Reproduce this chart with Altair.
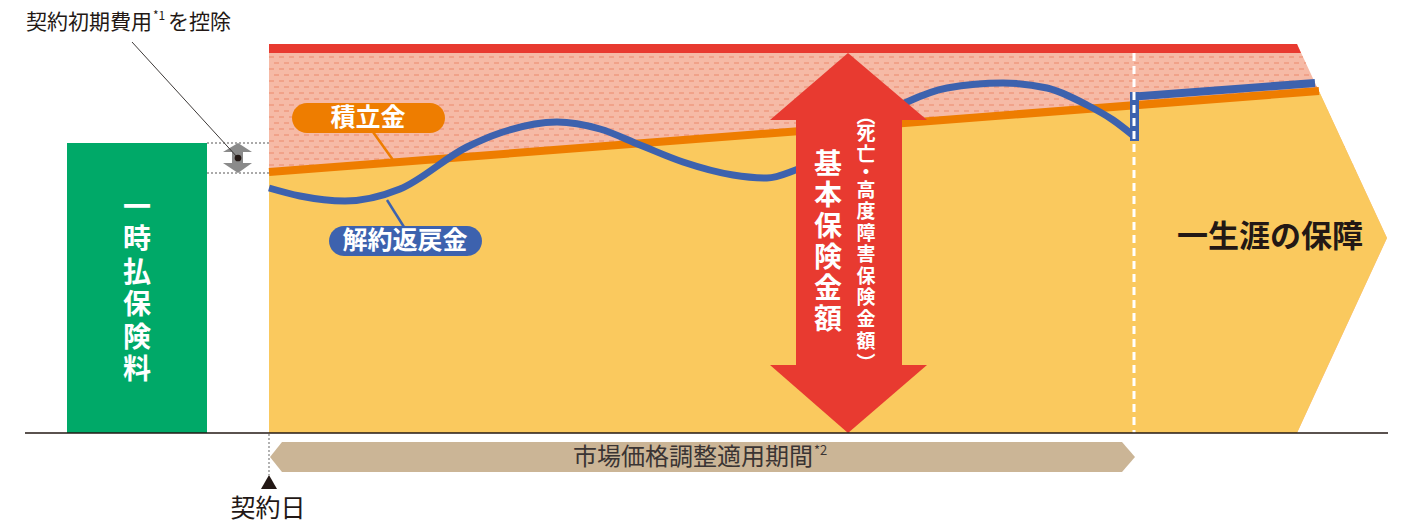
import altair as alt
import pandas as pd

# ---------------- diagram frame (pixel-like coordinates) ----------------
X_DOMAIN = [8, 1393]
Y_DOMAIN = [8, 524]
W, H = 1385, 516

FONT = "Noto Sans CJK JP"
INK = "#231815"

# ---------------- shapes / values ----------------
shape_x = [269, 1297, 1387]
shape_top = [44, 44, 238]
shape_bottom = [433, 433, 238]

red_band_x = [269, 1297, 1301]
red_band_top = [44, 44, 53]
red_band_bottom = [53, 53, 53]

yellow_x = [269, 1297, 1319, 1387]
yellow_top = [172, 92.6, 91, 238]
yellow_bottom = [433, 433, 385, 238]

orange_x = [269, 1319]
orange_y = [172, 91]

blue_curve_x = [269, 300, 345, 400, 467, 500, 557, 600, 640, 683, 733, 767, 793,
                850, 907, 947, 1003, 1047, 1087, 1113, 1135]
blue_curve_y = [188, 196, 201, 189, 147, 133, 122, 129, 145, 162, 175, 178, 171,
                137, 102, 88, 83, 88, 105, 120, 137]
blue_tail_x = [1135, 1315]
blue_tail_y = [96.5, 83]
blue_jump = {"x": 1134.5, "y1": 92, "y2": 141}

dash_rows = [57, 63, 69, 75, 81, 87, 93, 99, 105, 111, 117, 123, 129, 135, 141,
             147, 153, 159, 165, 171]

period_line = {"x": 1134, "y1": 53, "y2": 433}

arrow_top_y = [53, 120]
arrow_top_l = [848, 770]
arrow_top_r = [848, 927]
arrow_shaft = {"x1": 796, "x2": 902, "y1": 119, "y2": 366}
arrow_bot_y = [365, 433]
arrow_bot_l = [770, 848]
arrow_bot_r = [927, 848]

green_box = {"x1": 67, "x2": 207, "y1": 143, "y2": 433}
green_chars = list("一時払保険料")
green_char_y = [209, 241, 274, 306, 339, 371]

main_chars = list("基本保険金額")
main_char_y = [166, 197, 228, 259, 290, 321]
sub_chars = ["︵", "死", "亡", "・", "高", "度", "障", "害", "保", "険", "金", "額", "︶"]
sub_char_y = [117, 134, 155, 173, 191, 212, 234, 255, 277, 298, 320, 342, 364]

gray_top_y = [143, 152]
gray_top_l = [238, 223]
gray_top_r = [238, 252]
gray_shaft = {"x1": 232, "x2": 243, "y1": 151, "y2": 164}
gray_bot_y = [163, 173]
gray_bot_l = [223, 238]
gray_bot_r = [252, 238]

tan_y = [442, 457, 472]
tan_l = [282, 270, 282]
tan_r = [1122, 1135, 1122]

tri_y = [475, 489]
tri_l = [269, 261]
tri_r = [269, 277]

# ---------------- colours ----------------
C_PINK = "#F6BAA6"
C_DASH = "#EF9A80"
C_RED = "#E83A30"
C_YELLOW = "#FAC95E"
C_ORANGE = "#EE7D00"
C_BLUE = "#3D62AE"
C_GREEN = "#00A968"
C_GRAY = "#8A8A8A"
C_TAN = "#CBB596"

xs = alt.Scale(domain=X_DOMAIN, nice=False, zero=False)
ys = alt.Scale(domain=Y_DOMAIN, nice=False, zero=False, reverse=True)


def X(f="x"):
    return alt.X(f"{f}:Q", scale=xs, axis=None)


def Y(f="y"):
    return alt.Y(f"{f}:Q", scale=ys, axis=None)


def vband(xv, top, bottom, color):
    df = pd.DataFrame({"x": xv, "y": top, "y2": bottom})
    return alt.Chart(df).mark_area(color=color, opacity=1).encode(
        x=X(), y=Y(), y2=alt.Y2("y2:Q"))


def hband(yv, left, right, color):
    df = pd.DataFrame({"y": yv, "x": left, "x2": right})
    return alt.Chart(df).mark_area(color=color, opacity=1, orient="horizontal").encode(
        y=Y(), x=X(), x2=alt.X2("x2:Q"))


def box(b, color, **kw):
    df = pd.DataFrame([b])
    return alt.Chart(df).mark_rect(color=color, opacity=1, **kw).encode(
        x=X("x1"), x2=alt.X2("x2:Q"), y=Y("y1"), y2=alt.Y2("y2:Q"))


def seg(rows, **kw):
    df = pd.DataFrame(rows)
    return alt.Chart(df).mark_rule(**kw).encode(
        x=X("x1"), x2=alt.X2("x2:Q"), y=Y("y1"), y2=alt.Y2("y2:Q"))


def line(xv, yv, **kw):
    df = pd.DataFrame({"x": xv, "y": yv})
    return alt.Chart(df).mark_line(**kw).encode(x=X(), y=Y())


def texts(rows, **kw):
    df = pd.DataFrame(rows)
    return alt.Chart(df).mark_text(font=FONT, **kw).encode(x=X(), y=Y(), text="t:N")


def slant_x(y):
    # upper slanted edge of the big arrow shape
    return shape_x[1] + (y - shape_top[1]) * (shape_x[2] - shape_x[1]) / (shape_top[2] - shape_top[1])


layers = []
layers.append(vband(shape_x, shape_top, shape_bottom, C_PINK))
layers.append(vband(red_band_x, red_band_top, red_band_bottom, C_RED))
even = [{"x1": 269, "x2": slant_x(y), "y1": y, "y2": y} for i, y in enumerate(dash_rows) if i % 2 == 0]
odd = [{"x1": 269, "x2": slant_x(y), "y1": y, "y2": y} for i, y in enumerate(dash_rows) if i % 2 == 1]
layers.append(seg(even, color=C_DASH, strokeWidth=1.3, strokeDash=[5, 5]))
layers.append(seg(odd, color=C_DASH, strokeWidth=1.3, strokeDash=[5, 5], strokeDashOffset=5))
layers.append(vband(yellow_x, yellow_top, yellow_bottom, C_YELLOW))
layers.append(line(orange_x, orange_y, color=C_ORANGE, strokeWidth=8, strokeCap="butt"))

# leader lines for labels
layers.append(seg([{"x1": 373, "x2": 393, "y1": 132, "y2": 160}], color=C_ORANGE, strokeWidth=2.5))
layers.append(seg([{"x1": 387, "x2": 404, "y1": 200, "y2": 227}], color=C_BLUE, strokeWidth=2.5))

layers.append(line(blue_curve_x, blue_curve_y, color=C_BLUE, strokeWidth=7,
                   interpolate="monotone", strokeCap="butt"))
layers.append(line(blue_tail_x, blue_tail_y, color=C_BLUE, strokeWidth=8, strokeCap="butt"))
layers.append(seg([{"x1": blue_jump["x"], "x2": blue_jump["x"], "y1": blue_jump["y1"], "y2": blue_jump["y2"]}],
                  color=C_BLUE, strokeWidth=9))
layers.append(seg([{"x1": period_line["x"], "x2": period_line["x"], "y1": period_line["y1"], "y2": period_line["y2"]}],
                  color="white", strokeWidth=3, strokeDash=[8, 5]))

# red double arrow
layers.append(hband(arrow_top_y, arrow_top_l, arrow_top_r, C_RED))
layers.append(box(arrow_shaft, C_RED))
layers.append(hband(arrow_bot_y, arrow_bot_l, arrow_bot_r, C_RED))

# green box
layers.append(box(green_box, C_GREEN))
layers.append(texts([{"x": 137, "y": y, "t": c} for c, y in zip(green_chars, green_char_y)],
                    fontSize=28, fontWeight="bold", color="white", align="center", baseline="middle"))

# initial cost marker
layers.append(seg([{"x1": 207, "x2": 269, "y1": 143, "y2": 143},
                   {"x1": 207, "x2": 269, "y1": 173, "y2": 173}],
                  color="#595757", strokeWidth=1.2, strokeDash=[2, 2]))
layers.append(hband(gray_top_y, gray_top_l, gray_top_r, C_GRAY))
layers.append(box(gray_shaft, C_GRAY))
layers.append(hband(gray_bot_y, gray_bot_l, gray_bot_r, C_GRAY))
layers.append(seg([{"x1": 132, "x2": 238, "y1": 42, "y2": 158}], color="#3E3A39", strokeWidth=1))
layers.append(alt.Chart(pd.DataFrame({"x": [238], "y": [158]})).mark_circle(
    color=INK, size=45, opacity=1).encode(x=X(), y=Y()))
layers.append(texts([{"x": 26, "y": 23, "t": "契約初期費用"}, {"x": 168, "y": 23, "t": "を控除"}],
                    fontSize=21, color=INK, align="left", baseline="middle"))
layers.append(texts([{"x": 153, "y": 16, "t": "*1"}],
                    fontSize=12, color=INK, align="left", baseline="middle"))

# label pills
layers.append(box({"x1": 292, "x2": 445, "y1": 103, "y2": 133}, C_ORANGE, cornerRadius=15))
layers.append(texts([{"x": 368, "y": 118, "t": "積立金"}],
                    fontSize=25, fontWeight="bold", color="white", align="center", baseline="middle"))
layers.append(box({"x1": 329, "x2": 482, "y1": 226, "y2": 256}, C_BLUE, cornerRadius=15))
layers.append(texts([{"x": 405, "y": 241, "t": "解約返戻金"}],
                    fontSize=25, fontWeight="bold", color="white", align="center", baseline="middle"))

# arrow texts
layers.append(texts([{"x": 828, "y": y, "t": c} for c, y in zip(main_chars, main_char_y)],
                    fontSize=28, fontWeight="bold", color="white", align="center", baseline="middle"))
layers.append(texts([{"x": 866, "y": y, "t": c} for c, y in zip(sub_chars, sub_char_y)],
                    fontSize=19, fontWeight="bold", color="white", align="center", baseline="middle"))

layers.append(texts([{"x": 1270, "y": 238, "t": "一生涯の保障"}],
                    fontSize=31, fontWeight="bold", color=INK, align="center", baseline="middle"))

# baseline and period bar
layers.append(seg([{"x1": 25, "x2": 1388, "y1": 433, "y2": 433}], color=INK, strokeWidth=1.5))
layers.append(hband(tan_y, tan_l, tan_r, C_TAN))
layers.append(texts([{"x": 813, "y": 458, "t": "市場価格調整適用期間"}],
                    fontSize=24, color="#3A3433", align="right", baseline="middle"))
layers.append(texts([{"x": 814, "y": 451, "t": "*2"}],
                    fontSize=13, color="#3A3433", align="left", baseline="middle"))

# contract date marker
layers.append(seg([{"x1": 269, "x2": 269, "y1": 434, "y2": 475}], color="#808080",
                  strokeWidth=1.2, strokeDash=[2, 2]))
layers.append(hband(tri_y, tri_l, tri_r, INK))
layers.append(texts([{"x": 268, "y": 509, "t": "契約日"}],
                    fontSize=25, color=INK, align="center", baseline="middle"))

chart = alt.layer(*layers).properties(
    width=W, height=H, padding=0,
    autosize=alt.AutoSizeParams(type="none"),
    background="white",
).configure_view(stroke=None)

chart.save("out.html", embed_options={"renderer": "svg", "actions": False})
